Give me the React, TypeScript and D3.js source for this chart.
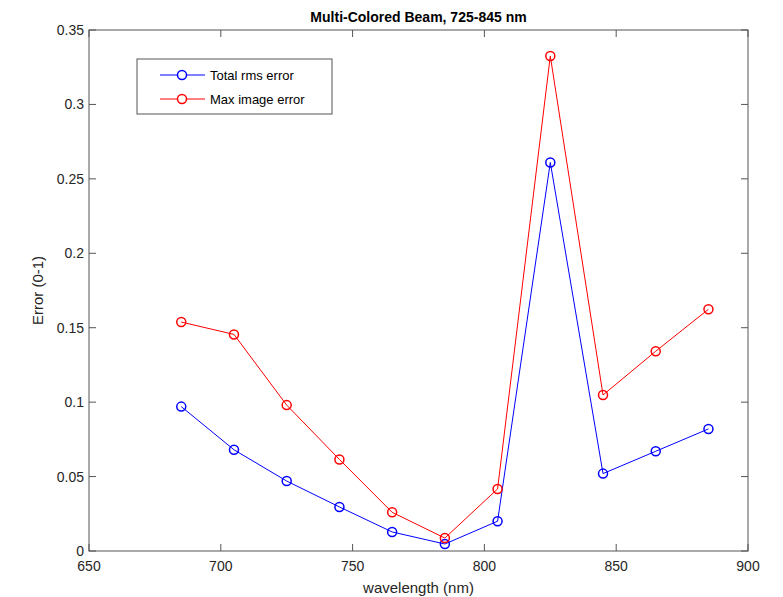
import React, { useEffect, useRef } from 'react';
import * as d3 from 'd3';

const wavelengths = [685, 705, 725, 745, 765, 785, 805, 825, 845, 865, 885];
const totalRms = [0.097, 0.068, 0.047, 0.0296, 0.0128, 0.0047, 0.020, 0.261, 0.052, 0.067, 0.082];
const maxImage = [0.1538, 0.1455, 0.098, 0.0615, 0.026, 0.0087, 0.0417, 0.3325, 0.1048, 0.1342, 0.1624];
const seriesNames = ['Total rms error', 'Max image error'];
const seriesColors = ['#0000ff', '#ff0000'];
const xTicks = [650, 700, 750, 800, 850, 900];
const yTicks = [0, 0.05, 0.1, 0.15, 0.2, 0.25, 0.3, 0.35];

const App = () => {
    const svgRef = useRef<SVGSVGElement>(null);

    useEffect(() => {
        const W = 783, H = 597;
        const margin = { top: 30, right: 35, bottom: 46, left: 89 };
        const width = W - margin.left - margin.right;
        const height = H - margin.top - margin.bottom;
        const font = 'Liberation Sans, Arial, Helvetica, sans-serif';
        const axisColor = '#555';

        const root = d3.select(svgRef.current);
        root.selectAll('*').remove();

        const svg = root.append('g')
            .attr('transform', `translate(${margin.left},${margin.top})`);

        const x = d3.scaleLinear().domain([650, 900]).range([0, width]);
        const y = d3.scaleLinear().domain([0, 0.35]).range([height, 0]);

        // box
        svg.append('rect')
            .attr('width', width).attr('height', height)
            .attr('fill', 'white')
            .attr('stroke', axisColor).attr('stroke-width', 1);

        // ticks inside, on all four sides
        const tickLen = 7;
        xTicks.forEach(t => {
            svg.append('line').attr('x1', x(t)).attr('x2', x(t)).attr('y1', height).attr('y2', height - tickLen).attr('stroke', axisColor);
            svg.append('line').attr('x1', x(t)).attr('x2', x(t)).attr('y1', 0).attr('y2', tickLen).attr('stroke', axisColor);
            svg.append('text')
                .attr('x', x(t)).attr('y', height + 20)
                .attr('text-anchor', 'middle')
                .style('font-family', font).style('font-size', '14px').style('fill', '#262626')
                .text(t);
        });
        yTicks.forEach(t => {
            svg.append('line').attr('x1', 0).attr('x2', tickLen).attr('y1', y(t)).attr('y2', y(t)).attr('stroke', axisColor);
            svg.append('line').attr('x1', width).attr('x2', width - tickLen).attr('y1', y(t)).attr('y2', y(t)).attr('stroke', axisColor);
            svg.append('text')
                .attr('x', -5).attr('y', y(t) + 5)
                .attr('text-anchor', 'end')
                .style('font-family', font).style('font-size', '14px').style('fill', '#262626')
                .text(d3.format('~g')(t));
        });

        // axis labels and title
        svg.append('text')
            .attr('x', width / 2).attr('y', height + 42)
            .attr('text-anchor', 'middle')
            .style('font-family', font).style('font-size', '15px').style('fill', '#262626')
            .text('wavelength (nm)');
        svg.append('text')
            .attr('transform', `translate(${-46},${height / 2}) rotate(-90)`)
            .attr('text-anchor', 'middle')
            .style('font-family', font).style('font-size', '15px').style('fill', '#262626')
            .text('Error (0-1)');
        svg.append('text')
            .attr('x', width / 2).attr('y', -8)
            .attr('text-anchor', 'middle')
            .style('font-family', font).style('font-size', '14px').style('font-weight', 'bold').style('fill', '#000')
            .text('Multi-Colored Beam, 725-845 nm');

        const line = d3.line<[number, number]>()
            .x(d => x(d[0]))
            .y(d => y(d[1]));

        [totalRms, maxImage].forEach((vals, i) => {
            const pts = wavelengths.map((w, j) => [w, vals[j]] as [number, number]);
            svg.append('path')
                .datum(pts)
                .attr('fill', 'none')
                .attr('stroke', seriesColors[i])
                .attr('stroke-width', 1)
                .attr('d', line);
            svg.selectAll(`.pt${i}`)
                .data(pts)
                .enter().append('circle')
                .attr('class', `pt${i}`)
                .attr('cx', d => x(d[0]))
                .attr('cy', d => y(d[1]))
                .attr('r', 4.5)
                .attr('fill', 'none')
                .attr('stroke', seriesColors[i])
                .attr('stroke-width', 1.5);
        });

        // legend
        const lg = svg.append('g').attr('transform', `translate(${137 - margin.left},${59 - margin.top})`);
        lg.append('rect')
            .attr('width', 195).attr('height', 55)
            .attr('fill', 'white').attr('stroke', axisColor).attr('stroke-width', 1);
        seriesNames.forEach((name, i) => {
            const ry = 16 + i * 24;
            lg.append('line').attr('x1', 23).attr('x2', 68).attr('y1', ry).attr('y2', ry)
                .attr('stroke', seriesColors[i]).attr('stroke-width', 1);
            lg.append('circle').attr('cx', 45).attr('cy', ry).attr('r', 4.5)
                .attr('fill', 'white').attr('stroke', seriesColors[i]).attr('stroke-width', 1.5);
            lg.append('text').attr('x', 73).attr('y', ry + 5)
                .style('font-family', font).style('font-size', '13px').style('fill', '#000')
                .text(name);
        });
    }, []);

    return (
        <svg ref={svgRef} width={783} height={597}
            style={{ position: 'absolute', left: 0, top: 0, background: 'white' }} />
    );
};

export default App;
